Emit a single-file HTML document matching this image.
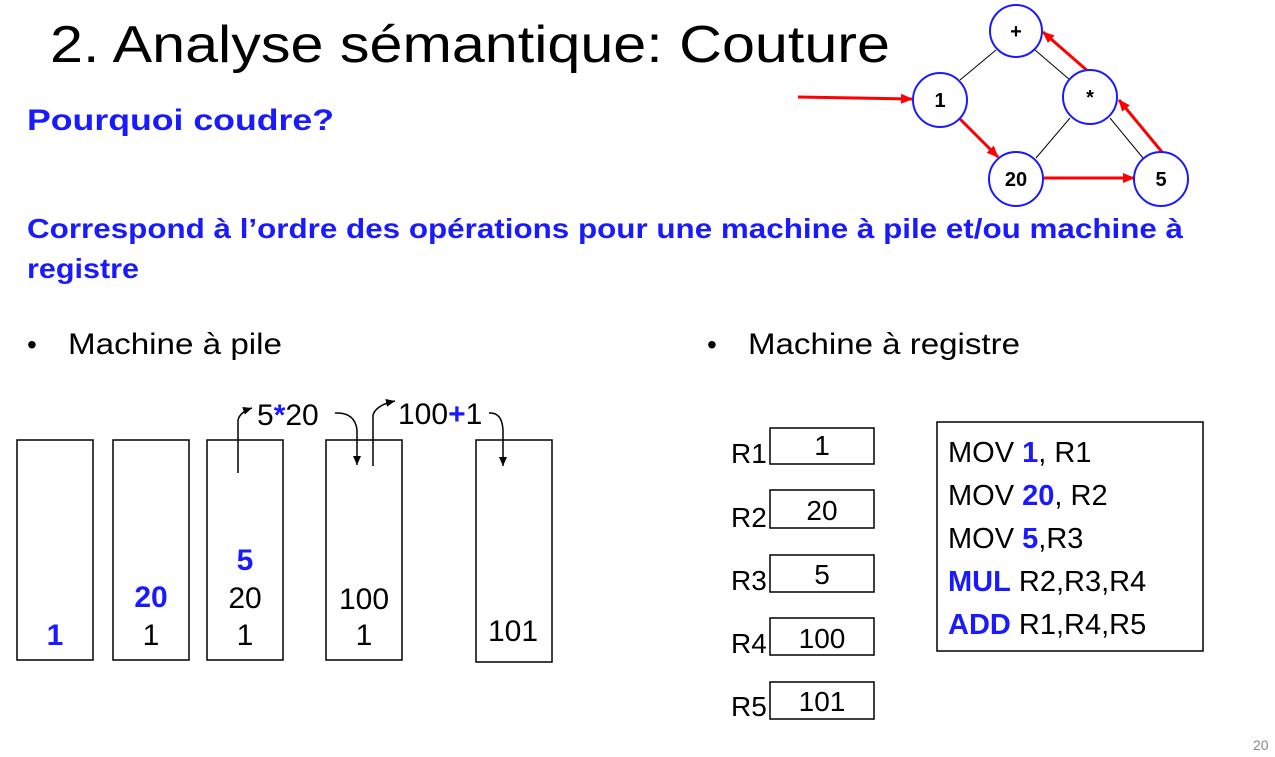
<!DOCTYPE html>
<html><head><meta charset="utf-8"><style>
html,body{margin:0;padding:0;background:#fff;}
svg{display:block;font-family:"Liberation Sans",sans-serif;}
</style></head><body>
<svg width="1275" height="757" viewBox="0 0 1275 757" xmlns="http://www.w3.org/2000/svg">
<defs>
<marker id="ar" markerWidth="12" markerHeight="12" refX="11" refY="6" orient="auto" markerUnits="userSpaceOnUse"><path d="M0,1 L12,6 L0,11 z" fill="#f00"/></marker>
<marker id="ab" markerWidth="10" markerHeight="10" refX="9" refY="5" orient="auto" markerUnits="userSpaceOnUse"><path d="M0,1 L9,5 L0,9 z" fill="#000"/></marker>
</defs>
<text x="50" y="62" font-size="52" fill="#000" textLength="840" lengthAdjust="spacingAndGlyphs">2. Analyse sémantique: Couture</text>
<text x="27" y="130" font-size="30" font-weight="bold" fill="#1a1aff" textLength="307" lengthAdjust="spacingAndGlyphs">Pourquoi coudre?</text>
<text x="27" y="238" font-size="28" font-weight="bold" fill="#1a1aff" textLength="1156" lengthAdjust="spacingAndGlyphs">Correspond à l’ordre des opérations pour une machine à pile et/ou machine à</text>
<text x="27" y="278" font-size="28" font-weight="bold" fill="#1a1aff" textLength="112" lengthAdjust="spacingAndGlyphs">registre</text>
<text x="27" y="354" font-size="28">•</text>
<text x="68" y="354" font-size="30" textLength="214" lengthAdjust="spacingAndGlyphs">Machine à pile</text>
<text x="707" y="354" font-size="28">•</text>
<text x="748" y="354" font-size="30" textLength="272" lengthAdjust="spacingAndGlyphs">Machine à registre</text>

<!-- tree -->
<g stroke="#000" stroke-width="1">
<line x1="996" y1="50" x2="960" y2="80"/>
<line x1="1035" y1="50" x2="1070" y2="80"/>
<line x1="1070" y1="118" x2="1036" y2="158"/>
<line x1="1110" y1="118" x2="1143" y2="158"/>
</g>
<g stroke="#f00" stroke-width="3" fill="none">
<line x1="798" y1="97" x2="912" y2="99" marker-end="url(#ar)"/>
<line x1="960" y1="119" x2="998" y2="157" marker-end="url(#ar)"/>
<line x1="1044" y1="178" x2="1134" y2="178" marker-end="url(#ar)"/>
<line x1="1162" y1="152" x2="1119" y2="100" marker-end="url(#ar)"/>
<line x1="1090" y1="73" x2="1043" y2="32" marker-end="url(#ar)"/>
</g>
<g stroke="#1a1aff" stroke-width="2" fill="#fff">
<circle cx="1016" cy="31" r="26"/>
<circle cx="940" cy="100" r="27"/>
<circle cx="1090" cy="97" r="27"/>
<circle cx="1016" cy="179" r="27"/>
<circle cx="1161" cy="179" r="27"/>
</g>
<g font-size="20" font-weight="bold" text-anchor="middle">
<text x="1016" y="38">+</text>
<text x="940" y="107">1</text>
<text x="1090" y="104">*</text>
<text x="1016" y="186">20</text>
<text x="1161" y="186">5</text>
</g>

<!-- stack -->
<g stroke="#000" stroke-width="1.5" fill="none">
<rect x="17" y="440" width="76" height="220"/>
<rect x="113" y="440" width="76" height="220"/>
<rect x="207" y="440" width="76" height="220"/>
<rect x="326" y="440" width="76" height="220"/>
<rect x="476" y="440" width="76" height="222"/>
<path d="M238,473 L238,420 Q240,412 252,408" marker-end="url(#ab)"/>
<path d="M335,413 Q355,412 357,430 L357,465" marker-end="url(#ab)"/>
<path d="M373,466 L373,415 Q376,405 395,401" marker-end="url(#ab)"/>
<path d="M489,413 Q502,412 503,430 L503,466" marker-end="url(#ab)"/>
</g>
<g font-size="30" text-anchor="middle">
<text x="55" y="645" font-weight="bold" fill="#1a1aff">1</text>
<text x="151" y="607" font-weight="bold" fill="#1a1aff">20</text>
<text x="151" y="645">1</text>
<text x="245" y="570" font-weight="bold" fill="#1a1aff">5</text>
<text x="245" y="608">20</text>
<text x="245" y="645">1</text>
<text x="364" y="609">100</text>
<text x="364" y="645">1</text>
<text x="513" y="641">101</text>
</g>
<text x="257" y="425" font-size="30">5<tspan fill="#1a1aff" font-weight="bold">*</tspan>20</text>
<text x="398" y="424" font-size="30">100<tspan fill="#1a1aff" font-weight="bold">+</tspan>1</text>

<!-- registers -->
<g stroke="#000" stroke-width="1.5" fill="none">
<rect x="770" y="428" width="104" height="36"/>
<rect x="770" y="490" width="104" height="38"/>
<rect x="770" y="555" width="104" height="37"/>
<rect x="770" y="618" width="104" height="37"/>
<rect x="770" y="682" width="104" height="37"/>
<rect x="937" y="422" width="266" height="229"/>
</g>
<g font-size="28">
<text x="731" y="463">R1</text>
<text x="731" y="527">R2</text>
<text x="731" y="590">R3</text>
<text x="731" y="653">R4</text>
<text x="731" y="716">R5</text>
</g>
<g font-size="28" text-anchor="middle">
<text x="822" y="455">1</text>
<text x="822" y="520">20</text>
<text x="822" y="584">5</text>
<text x="822" y="648">100</text>
<text x="822" y="711">101</text>
</g>
<g font-size="29">
<text x="948" y="462">MOV <tspan fill="#1a1aff" font-weight="bold">1</tspan>, R1</text>
<text x="948" y="505">MOV <tspan fill="#1a1aff" font-weight="bold">20</tspan>, R2</text>
<text x="948" y="548">MOV <tspan fill="#1a1aff" font-weight="bold">5</tspan>,R3</text>
<text x="948" y="591"><tspan fill="#1a1aff" font-weight="bold">MUL</tspan> R2,R3,R4</text>
<text x="948" y="634"><tspan fill="#1a1aff" font-weight="bold">ADD</tspan> R1,R4,R5</text>
</g>
<text x="1253" y="750" font-size="14" fill="#888">20</text>
</svg>
</body></html>
